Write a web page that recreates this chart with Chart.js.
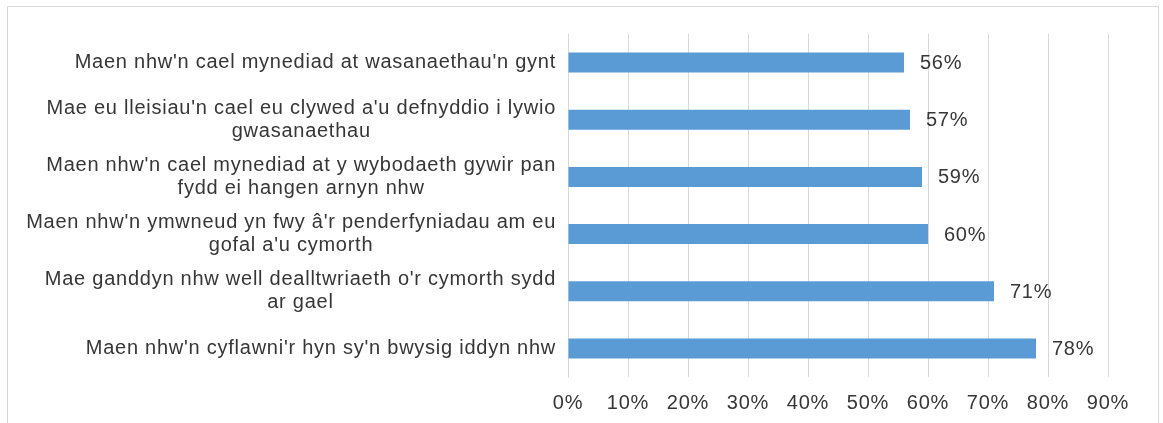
<!DOCTYPE html>
<html>
<head>
<meta charset="utf-8">
<script src="https://cdn.jsdelivr.net/npm/chart.js@4"></script>
<style>
    html, body { margin: 0; padding: 0; background: #fff; overflow: hidden; }
    #wrap { position: relative; width: 1163px; height: 423px; }
    #frame {
        position: absolute; left: 7px; top: 6px; width: 1150px; height: 440px;
        border: 1px solid #d9d9d9; pointer-events: none;
    }
</style>
</head>
<body>
<div id="wrap">
    <canvas id="chart" width="1163" height="423"></canvas>
    <div id="frame"></div>
</div>
<script>
// Category labels (wrapped the way the reference wraps them)
const categories = [
    ["Maen nhw'n cael mynediad at wasanaethau'n gynt"],
    ["Mae eu lleisiau'n cael eu clywed a'u defnyddio i lywio", "gwasanaethau"],
    ["Maen nhw'n cael mynediad at y wybodaeth gywir pan", "fydd ei hangen arnyn nhw"],
    ["Maen nhw'n ymwneud yn fwy â'r penderfyniadau am eu", "gofal a'u cymorth"],
    ["Mae ganddyn nhw well dealltwriaeth o'r cymorth sydd", "ar gael"],
    ["Maen nhw'n cyflawni'r hyn sy'n bwysig iddyn nhw"]
];

// Percent values per category
const values = [56, 57, 59, 60, 71, 78];

// X axis tick labels
const xTickLabels = ['0%', '10%', '20%', '30%', '40%', '50%', '60%', '70%', '80%', '90%'];

const FONT = "'Liberation Sans', Arial, sans-serif";
const FONT_SIZE = 20;
const TEXT_COLOR = '#363636';
const SPACING = '0.75px';

// keep the slightly spaced-out lettering of the original
const spacingPlugin = {
    id: 'spacing',
    beforeLayout(chart) { chart.ctx.letterSpacing = SPACING; },
    beforeDraw(chart) { chart.ctx.letterSpacing = SPACING; }
};

// Category labels: block right-aligned to the axis, lines centred inside the block
const categoryLabels = {
    id: 'categoryLabels',
    afterDraw(chart) {
        const ctx = chart.ctx;
        const yScale = chart.scales.y;
        const right = chart.chartArea.left - 12;
        const lineH = 23;
        ctx.save();
        ctx.letterSpacing = SPACING;
        ctx.font = FONT_SIZE + 'px ' + FONT;
        ctx.fillStyle = TEXT_COLOR;
        ctx.textAlign = 'center';
        ctx.textBaseline = 'middle';
        categories.forEach((lines, i) => {
            const y = yScale.getPixelForValue(i);
            const widest = Math.max(...lines.map(l => ctx.measureText(l).width));
            const cx = right - widest / 2;
            const top = y - (lines.length - 1) * lineH / 2;
            lines.forEach((line, j) => ctx.fillText(line, cx, top + j * lineH));
        });
        ctx.restore();
    }
};

// Value labels to the right of each bar
const valueLabels = {
    id: 'valueLabels',
    afterDatasetsDraw(chart) {
        const ctx = chart.ctx;
        const meta = chart.getDatasetMeta(0);
        ctx.save();
        ctx.letterSpacing = SPACING;
        ctx.font = FONT_SIZE + 'px ' + FONT;
        ctx.fillStyle = TEXT_COLOR;
        ctx.textAlign = 'left';
        ctx.textBaseline = 'middle';
        meta.data.forEach((bar, i) => {
            ctx.fillText(values[i] + '%', bar.x + 16, bar.y + 1);
        });
        ctx.restore();
    }
};

let chart;
try {
    const ctx = document.getElementById('chart');
    chart = new Chart(ctx.getContext('2d'), {
        type: 'bar',
        data: {
            labels: categories,
            datasets: [{
                data: values,
                backgroundColor: '#5b9bd5',
                borderWidth: 0,
                barPercentage: 0.35,
                categoryPercentage: 1
            }]
        },
        options: {
            indexAxis: 'y',
            responsive: false,
            animation: false,
            events: [],
            layout: {
                padding: { top: 34, right: 55, bottom: 0, left: 0 }
            },
            scales: {
                x: {
                    min: 0,
                    max: 90,
                    ticks: {
                        stepSize: 10,
                        padding: 14,
                        color: TEXT_COLOR,
                        font: { family: FONT, size: FONT_SIZE },
                        callback: (v, i) => xTickLabels[i]
                    },
                    grid: {
                        color: '#d9d9d9',
                        drawTicks: false
                    },
                    border: { display: false },
                    afterFit(scale) { scale.height = 46; }
                },
                y: {
                    ticks: { display: false },
                    grid: { display: false },
                    border: { display: true, color: '#d9d9d9' },
                    afterFit(scale) { scale.width = 568; }
                }
            },
            plugins: {
                legend: { display: false },
                tooltip: { enabled: false }
            }
        },
        plugins: [spacingPlugin, valueLabels, categoryLabels]
    });
} catch (error) {
    console.error('Error initializing chart:', error);
}
</script>
</body>
</html>
